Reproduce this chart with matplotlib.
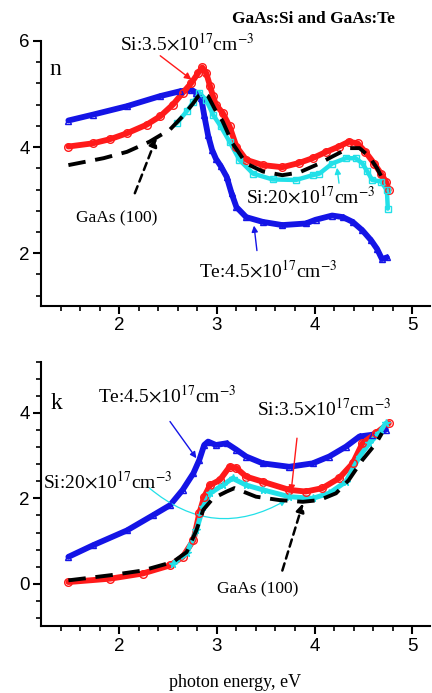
import matplotlib
matplotlib.use("Agg")
import matplotlib.pyplot as plt

plt.rcParams['mathtext.fontset'] = 'stix'
SERIF = 'Liberation Serif'
SANS = 'Liberation Sans'

# ---- n panel data ----
n_red_x = [1.48, 1.73, 1.91, 2.08, 2.28, 2.42, 2.55, 2.65, 2.74, 2.81, 2.85, 2.89, 2.93, 2.96, 2.99, 3.06, 3.13, 3.20, 3.30, 3.47, 3.67, 3.84, 3.98, 4.12, 4.25, 4.35, 4.44, 4.52, 4.61, 4.68, 4.73, 4.76]
n_red_y = [4.01, 4.07, 4.15, 4.26, 4.42, 4.58, 4.80, 5.02, 5.21, 5.40, 5.50, 5.40, 5.15, 4.96, 4.80, 4.64, 4.39, 4.01, 3.76, 3.66, 3.62, 3.70, 3.79, 3.91, 4.01, 4.10, 4.07, 3.91, 3.69, 3.50, 3.35, 3.19]

n_black_x = [1.48, 1.84, 2.08, 2.31, 2.52, 2.65, 2.76, 2.81, 2.86, 2.91, 2.98, 3.06, 3.16, 3.30, 3.47, 3.67, 3.84, 4.05, 4.18, 4.35, 4.46, 4.56, 4.64, 4.70]
n_black_y = [3.66, 3.79, 3.91, 4.10, 4.33, 4.58, 4.83, 4.96, 5.02, 4.96, 4.71, 4.48, 4.07, 3.69, 3.54, 3.47, 3.52, 3.69, 3.82, 3.98, 3.98, 3.82, 3.60, 3.38]

n_cyan_x = [2.59, 2.69, 2.76, 2.82, 2.89, 2.96, 3.04, 3.13, 3.23, 3.37, 3.57, 3.81, 3.98, 4.05, 4.18, 4.32, 4.42, 4.49, 4.54, 4.59, 4.68, 4.74, 4.75]
n_cyan_y = [4.45, 4.67, 4.85, 5.02, 4.89, 4.61, 4.39, 4.10, 3.76, 3.50, 3.39, 3.38, 3.47, 3.50, 3.69, 3.79, 3.79, 3.69, 3.54, 3.38, 3.35, 3.19, 2.84]

n_blue_x = [1.48, 1.73, 2.08, 2.42, 2.62, 2.74, 2.79, 2.84, 2.87, 2.91, 2.95, 2.99, 3.04, 3.10, 3.15, 3.20, 3.30, 3.47, 3.67, 3.91, 4.01, 4.18, 4.29, 4.39, 4.49, 4.58, 4.64, 4.69, 4.74]
n_blue_y = [4.50, 4.61, 4.77, 4.96, 5.05, 5.08, 5.02, 4.92, 4.60, 4.22, 3.95, 3.78, 3.64, 3.44, 3.13, 2.87, 2.68, 2.59, 2.53, 2.56, 2.63, 2.71, 2.68, 2.59, 2.43, 2.24, 2.08, 1.89, 1.92]

# ---- k panel data ----
k_blue_x = [1.48, 1.73, 2.08, 2.35, 2.52, 2.65, 2.76, 2.82, 2.87, 2.91, 2.99, 3.10, 3.20, 3.30, 3.47, 3.74, 3.98, 4.15, 4.32, 4.46, 4.59, 4.73]
k_blue_y = [0.63, 0.90, 1.25, 1.61, 1.84, 2.20, 2.59, 2.90, 3.25, 3.33, 3.25, 3.29, 3.14, 2.98, 2.82, 2.74, 2.82, 2.98, 3.21, 3.45, 3.49, 3.61]

k_red_x = [1.48, 1.91, 2.24, 2.52, 2.65, 2.76, 2.82, 2.87, 2.93, 3.03, 3.13, 3.20, 3.30, 3.47, 3.74, 3.91, 4.08, 4.25, 4.39, 4.49, 4.63, 4.76]
k_red_y = [0.04, 0.12, 0.24, 0.43, 0.63, 1.02, 1.65, 2.04, 2.31, 2.43, 2.74, 2.71, 2.51, 2.39, 2.20, 2.16, 2.24, 2.47, 2.82, 3.29, 3.53, 3.76]

k_cyan_x = [2.55, 2.69, 2.79, 2.86, 2.93, 3.06, 3.16, 3.30, 3.47, 3.74, 3.98, 4.15, 4.32, 4.46, 4.56, 4.66, 4.73]
k_cyan_y = [0.47, 0.71, 1.25, 1.80, 2.12, 2.31, 2.47, 2.31, 2.20, 2.04, 2.00, 2.12, 2.39, 2.98, 3.29, 3.53, 3.76]

k_black_x = [1.48, 1.91, 2.24, 2.55, 2.69, 2.79, 2.86, 2.96, 3.10, 3.18, 3.40, 3.64, 3.88, 4.05, 4.22, 4.35, 4.49, 4.63, 4.69]
k_black_y = [0.08, 0.20, 0.31, 0.51, 0.74, 1.25, 1.73, 2.00, 2.16, 2.24, 2.04, 1.96, 1.92, 1.96, 2.12, 2.43, 2.90, 3.29, 3.53]

RED = '#ff1a1a'
BLUE = '#1414e6'
CYAN = '#22e0e8'

fig = plt.figure(figsize=(4.32, 6.93), dpi=100)
ax1 = fig.add_axes([0.095, 0.558, 0.90, 0.383])
ax2 = fig.add_axes([0.095, 0.096, 0.90, 0.382])

def style(ax, ylim, yticks, yminor):
    for s in ['top', 'right']:
        ax.spines[s].set_visible(False)
    for s in ['left', 'bottom']:
        ax.spines[s].set_linewidth(1.5)
    ax.set_xlim(1.2, 5.18)
    ax.set_ylim(*ylim)
    ax.set_xticks([2, 3, 4, 5])
    ax.set_xticks([1.4, 1.6, 1.8, 2.2, 2.4, 2.6, 2.8, 3.2, 3.4, 3.6, 3.8, 4.2, 4.4, 4.6, 4.8], minor=True)
    ax.set_yticks(yticks)
    ax.set_yticks(yminor, minor=True)
    ax.tick_params(which='major', direction='out', length=6, width=1.5, labelsize=13.5, pad=2)
    ax.tick_params(which='minor', direction='out', length=3.5, width=1.2)
    for lab in ax.get_xticklabels() + ax.get_yticklabels():
        lab.set_fontfamily(SANS)

def series(ax, x, y, color, marker, ms=5, lw=4.2, mfc='none'):
    ax.plot(x, y, color=color, lw=lw, solid_capstyle='round', solid_joinstyle='round', zorder=3)
    ax.plot(x, y, ls='none', marker=marker, ms=ms, mfc=mfc, mec=color, mew=1.0, zorder=3.2)

# ---- n panel ----
style(ax1, (1.0, 6.0), [2, 4, 6], [1.2, 1.6, 2.4, 2.8, 3.2, 3.6, 4.4, 4.8, 5.2, 5.6])
series(ax1, n_blue_x, n_blue_y, BLUE, '^', ms=5)
series(ax1, n_red_x, n_red_y, RED, 'o', ms=5.5)
series(ax1, n_cyan_x, n_cyan_y, CYAN, 's', ms=4, lw=3.2)
ax1.plot(n_black_x, n_black_y, color='black', lw=2.8, dashes=(4.5, 2.5), zorder=4)

ax1.text(1.29, 5.35, 'n', fontfamily=SERIF, fontsize=17)
fig.text(0.537, 0.972, 'GaAs:Si and GaAs:Te', fontfamily=SERIF, fontsize=12.5, fontweight='bold', va='center')

ax1.text(2.01, 5.82, r'Si:3.5$\times$10$^{17}$cm$^{-3}$', fontfamily=SERIF, fontsize=14)
ax1.annotate('', xy=(2.74, 5.27), xytext=(2.42, 5.72),
             arrowprops=dict(arrowstyle='-|>', color=RED, lw=1.0, shrinkA=0, shrinkB=0, mutation_scale=10))
ax1.text(1.56, 2.65, 'GaAs (100)', fontfamily=SERIF, fontsize=12.5, va='center')
ax1.annotate('', xy=(2.38, 4.17), xytext=(2.16, 3.13),
             arrowprops=dict(arrowstyle='-|>', color='black', lw=1.8, linestyle=(0, (3, 2)),
                             shrinkA=0, shrinkB=0, mutation_scale=12))
ax1.text(3.30, 2.95, r'Si:20$\times$10$^{17}$cm$^{-3}$', fontfamily=SERIF, fontsize=14)
ax1.annotate('', xy=(4.23, 3.61), xytext=(4.25, 3.32),
             arrowprops=dict(arrowstyle='-|>', color=CYAN, lw=1.0, shrinkA=0, shrinkB=0, mutation_scale=9))
ax1.text(2.82, 1.55, r'Te:4.5$\times$10$^{17}$cm$^{-3}$', fontfamily=SERIF, fontsize=14)
ax1.annotate('', xy=(3.38, 2.52), xytext=(3.41, 2.05),
             arrowprops=dict(arrowstyle='-|>', color=BLUE, lw=1.0, shrinkA=0, shrinkB=0, mutation_scale=9))

# ---- k panel ----
style(ax2, (-1.0, 5.2), [0, 2, 4], [-0.8, -0.4, 0.4, 0.8, 1.2, 1.6, 2.4, 2.8, 3.2, 3.6, 4.4, 4.8, 5.2])
series(ax2, k_blue_x, k_blue_y, BLUE, '^', ms=5)
series(ax2, k_red_x, k_red_y, RED, 'o', ms=5.5)
series(ax2, k_cyan_x, k_cyan_y, CYAN, '*', ms=5.5, lw=3.6, mfc=CYAN)
ax2.plot(k_black_x, k_black_y, color='black', lw=2.8, dashes=(4.5, 2.5), zorder=4)

ax2.text(1.30, 4.1, 'k', fontfamily=SERIF, fontsize=17)
ax2.text(1.78, 4.25, r'Te:4.5$\times$10$^{17}$cm$^{-3}$', fontfamily=SERIF, fontsize=14)
ax2.annotate('', xy=(2.79, 2.94), xytext=(2.52, 3.80),
             arrowprops=dict(arrowstyle='-|>', color=BLUE, lw=1.0, shrinkA=0, shrinkB=0, mutation_scale=9))
ax2.text(3.41, 3.95, r'Si:3.5$\times$10$^{17}$cm$^{-3}$', fontfamily=SERIF, fontsize=14)
ax2.annotate('', xy=(3.76, 2.16), xytext=(3.82, 3.41),
             arrowprops=dict(arrowstyle='-|>', color=RED, lw=1.0, shrinkA=0, shrinkB=0, mutation_scale=9))
ax2.text(1.22, 2.25, r'Si:20$\times$10$^{17}$cm$^{-3}$', fontfamily=SERIF, fontsize=14)
ax2.annotate('', xy=(3.71, 1.96), xytext=(2.31, 2.24),
             arrowprops=dict(arrowstyle='-|>', color=CYAN, lw=0.9, shrinkA=0, shrinkB=0, mutation_scale=9,
                             connectionstyle='arc3,rad=0.35'))
ax2.text(3.0, -0.13, 'GaAs (100)', fontfamily=SERIF, fontsize=12.5, va='center')
ax2.annotate('', xy=(3.88, 1.88), xytext=(3.67, 0.31),
             arrowprops=dict(arrowstyle='-|>', color='black', lw=1.8, linestyle=(0, (3, 2)),
                             shrinkA=0, shrinkB=0, mutation_scale=12))
ax2.set_xlabel('photon energy, eV', fontfamily=SERIF, fontsize=13, labelpad=14)

fig.savefig('out.png', dpi=100)
